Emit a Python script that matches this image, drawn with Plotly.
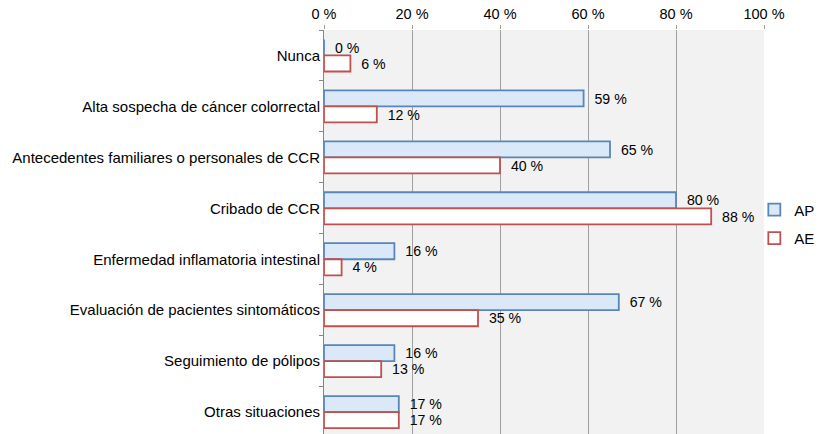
import plotly.graph_objects as go

categories = [
    "Nunca",
    "Alta sospecha de cáncer colorrectal",
    "Antecedentes familiares o personales de CCR",
    "Cribado de CCR",
    "Enfermedad inflamatoria intestinal",
    "Evaluación de pacientes sintomáticos",
    "Seguimiento de pólipos",
    "Otras situaciones",
]
ap_values = [0, 59, 65, 80, 16, 67, 16, 17]
ae_values = [6, 12, 40, 88, 4, 35, 13, 17]
tick_vals = [0, 20, 40, 60, 80, 100]
tick_text = ["0 %", "20 %", "40 %", "60 %", "80 %", "100 %"]

FONT = "Liberation Sans, Arial, sans-serif"
PAD = "\u00a0\u00a0"

fig = go.Figure()
fig.add_trace(go.Bar(
    y=categories, x=ap_values, orientation="h", name="AP",
    marker=dict(color="#dbe8f8", line=dict(color="#5a85b8", width=1.8)),
    text=[f"{PAD}{v} %" for v in ap_values], textposition="outside",
    textfont=dict(family=FONT, size=15, color="#000000"),
    cliponaxis=False, legendgroup="ap",
))
fig.add_trace(go.Bar(
    y=categories, x=ae_values, orientation="h", name="AE",
    marker=dict(color="#ffffff", line=dict(color="#c0504d", width=1.8)),
    text=[f"{PAD}{v} %" for v in ae_values], textposition="outside",
    textfont=dict(family=FONT, size=15, color="#000000"),
    cliponaxis=False, legendgroup="ae",
))

fig.update_layout(
    width=837, height=434,
    margin=dict(l=324, r=73, t=30, b=0, autoexpand=False),
    barmode="group", bargap=0.37, bargroupgap=0,
    paper_bgcolor="#ffffff", plot_bgcolor="#f2f2f2",
    font=dict(family=FONT, size=15, color="#000000"),
    showlegend=True,
    legend=dict(x=0.978, xanchor="left", y=0.52, yanchor="middle",
                font=dict(family=FONT, size=15), itemwidth=30,
                tracegroupgap=6, bgcolor="rgba(0,0,0,0)"),
)
fig.update_xaxes(
    side="top", range=[0, 100], tickvals=tick_vals, ticktext=tick_text,
    showgrid=True, gridcolor="#a0a0a0", gridwidth=1,
    ticks="outside", ticklen=4, tickcolor="#a0a0a0",
    tickfont=dict(family=FONT, size=14.5),
    showline=False, zeroline=False,
)
fig.update_yaxes(
    type="category", categoryorder="array", categoryarray=categories,
    range=[7.43, -0.5],
    showline=True, linecolor="#868686", linewidth=1,
    ticks="outside", ticklen=4, tickcolor="#868686", tickson="boundaries",
    tickfont=dict(family=FONT, size=15),
    showgrid=False, zeroline=False,
)

fig.write_html(
    "out.html",
    config={"displayModeBar": False},
    post_script="document.body.style.margin='0';document.body.style.overflow='hidden';",
)
